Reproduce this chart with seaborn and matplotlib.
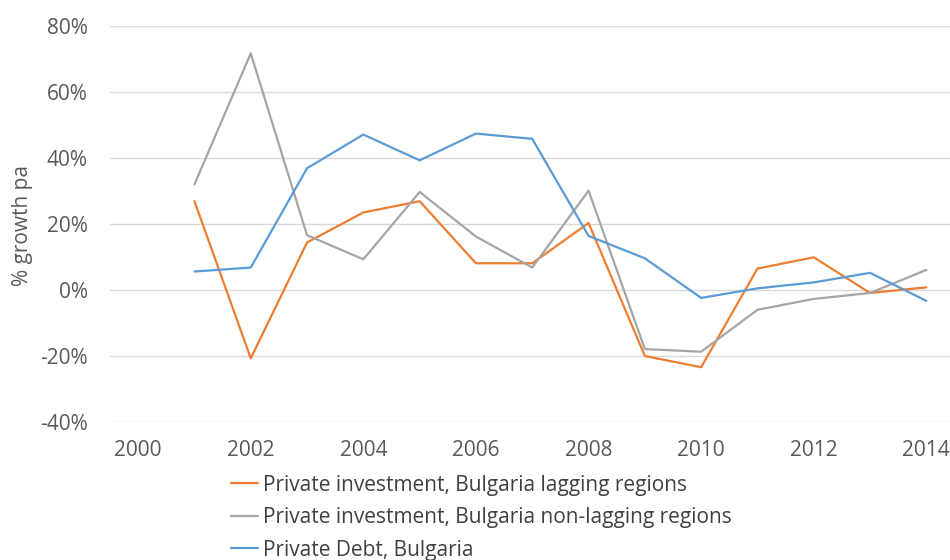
import matplotlib
matplotlib.use("Agg")
import matplotlib.pyplot as plt
import seaborn as sns
import pandas as pd
from matplotlib.ticker import PercentFormatter, MultipleLocator

years = list(range(2001, 2015))
lagging = [26.9, -20.7, 14.4, 23.5, 26.9, 8.1, 8.1, 20.3, -20.0, -23.4, 6.5, 9.9, -0.9, 0.8]
non_lagging = [32.0, 71.7, 16.6, 9.3, 29.7, 16.2, 6.8, 30.1, -17.9, -18.7, -6.0, -2.7, -0.9, 6.1]
debt = [5.6, 6.8, 36.9, 47.1, 39.3, 47.4, 45.8, 16.4, 9.6, -2.4, 0.5, 2.3, 5.2, -3.3]
series_names = [
    "Private investment, Bulgaria lagging regions",
    "Private investment, Bulgaria non-lagging regions",
    "Private Debt, Bulgaria",
]
colors = ["#ED7D31", "#A5A5A5", "#5B9BD5"]
y_label = "% growth pa"
x_ticks = list(range(2000, 2015, 2))

rows = []
for name, vals in zip(series_names, [lagging, non_lagging, debt]):
    for y, v in zip(years, vals):
        rows.append({"year": y, "value": v, "series": name})
df = pd.DataFrame(rows)

sns.set_theme(style="white")
plt.rcParams["font.family"] = ["Open Sans", "DejaVu Sans"]
plt.rcParams["axes.unicode_minus"] = False

fig = plt.figure(figsize=(9.5, 5.6), dpi=100)
ax = fig.add_axes([110 / 950, 1 - 422 / 560, 840 / 950, (422 - 26) / 560])

sns.lineplot(data=df, x="year", y="value", hue="series", hue_order=series_names,
             palette=colors, linewidth=1.6, ax=ax, legend=False)

ax.set_xlim(1999.5, 2014.42)
ax.set_ylim(-40, 80)
ax.set_xticks(x_ticks)
ax.yaxis.set_major_locator(MultipleLocator(20))
ax.yaxis.set_major_formatter(PercentFormatter(decimals=0))
ax.grid(axis="y", color="#D9D9D9", linewidth=1.0)
ax.set_axisbelow(True)
for s in ax.spines.values():
    s.set_visible(False)
ax.tick_params(axis="both", length=0, labelsize=15, labelcolor="#595959")
ax.tick_params(axis="y", pad=16)
ax.tick_params(axis="x", pad=13)
ax.set_xlabel("")
ax.set_ylabel(y_label, fontsize=15, color="#595959")
ax.yaxis.set_label_coords((33 - 110) / 840, (422 - 225) / 396)

handles = [plt.Line2D([], [], color=c, linewidth=1.6) for c in colors]
fig.legend(handles, series_names, loc="upper left",
           bbox_to_anchor=(212 / 950, 1 - 456 / 560), frameon=False,
           fontsize=15, handlelength=1.3, handletextpad=0.25,
           labelspacing=0.55, labelcolor="#404040")

fig.savefig("out.png", dpi=100)
